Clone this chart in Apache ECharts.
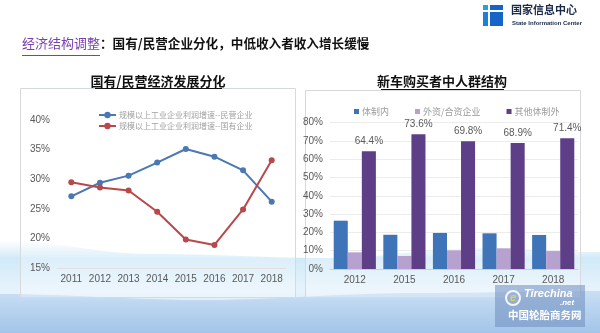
<!DOCTYPE html>
<html>
<head>
<meta charset="utf-8">
<script src="https://cdn.jsdelivr.net/npm/echarts@6/dist/echarts.min.js"></script>
<style>
  html, body { margin: 0; padding: 0; background: #fff; }
  #chart { width: 600px; height: 333px; }
</style>
</head>
<body>
<div id="chart"></div>
<script>
// Profit growth of industrial enterprises above designated size (%)
const growthYears = ['2011', '2012', '2013', '2014', '2015', '2016', '2017', '2018'];
const privateGrowth = [27.1, 29.4, 30.6, 32.8, 35.1, 33.8, 31.5, 26.2];
const stateGrowth = [29.5, 28.6, 28.1, 24.5, 19.8, 18.9, 24.9, 33.2];
const growthNames = ['规模以上工业企业利润增速--民营企业', '规模以上工业企业利润增速--国有企业'];

// Composition of new-car buyers (%)
const buyerYears = ['2012', '2015', '2016', '2017', '2018'];
const inSystem = [26.4, 18.7, 19.7, 19.5, 18.6];
const foreignJV = [9.1, 7.1, 10.2, 11.3, 9.8];
const otherOutside = [64.4, 73.6, 69.8, 68.9, 71.4];
const buyerNames = ['体制内', '外资/合资企业', '其他体制外'];

const FONT = 'Liberation Sans, Arial, sans-serif';
const CJK = '"Noto Sans CJK SC", sans-serif';

function vGradient(stops) {
  return { type: 'linear', x: 0, y: 0, x2: 0, y2: 1, colorStops: stops };
}

// closed band shape: a wavy top edge (cosine blend between anchor heights) down to the page bottom
function waveBand(anchors) {
  const pts = [];
  for (let i = 0; i < anchors.length - 1; i++) {
    const [x0, y0] = anchors[i];
    const [x1, y1] = anchors[i + 1];
    for (let s = 0; s < 12; s++) {
      const t = s / 12;
      const k = (1 - Math.cos(Math.PI * t)) / 2;
      pts.push([x0 + (x1 - x0) * t, y0 + (y1 - y0) * k]);
    }
  }
  pts.push(anchors[anchors.length - 1]);
  pts.push([600, 333], [0, 333]);
  return pts;
}

const chart = echarts.init(document.getElementById('chart'), null, { renderer: 'canvas' });

const background = [
  { type: 'rect', z: -20, shape: { x: 0, y: 0, width: 600, height: 333 }, style: { fill: '#ffffff' } },
  // soft watercolour wave near the bottom
  {
    type: 'polygon', z: -19,
    shape: { points: waveBand([[0, 240], [150, 254], [330, 258], [480, 248], [600, 252]]) },
    style: {
      fill: vGradient([
        { offset: 0, color: 'rgba(205,232,246,0.0)' },
        { offset: 0.2, color: 'rgba(196,228,246,0.8)' },
        { offset: 0.55, color: 'rgba(215,235,249,0.6)' },
        { offset: 1, color: 'rgba(190,214,240,0.9)' }
      ])
    }
  },
  {
    type: 'polygon', z: -18,
    shape: { points: waveBand([[0, 294], [200, 300], [420, 293], [600, 291]]) },
    style: {
      fill: vGradient([
        { offset: 0, color: 'rgba(185,212,240,0.65)' },
        { offset: 1, color: 'rgba(160,194,232,0.9)' }
      ])
    }
  },
  // chart frames
  { type: 'rect', z: -5, shape: { x: 20.5, y: 88.5, width: 275, height: 209 }, style: { fill: 'rgba(255,255,255,0.25)', stroke: '#d6d9de', lineWidth: 1 } },
  { type: 'rect', z: -5, shape: { x: 305.5, y: 90.5, width: 275, height: 207 }, style: { fill: 'rgba(255,255,255,0.25)', stroke: '#d6d9de', lineWidth: 1 } },
  // headline
  {
    type: 'text', left: 22, top: 37,
    style: {
      text: '{p|经济结构调整}{b|：国有/民营企业分化，中低收入者收入增长缓慢}',
      rich: {
        p: { fill: '#7a3fb3', font: '13px ' + CJK },
        b: { fill: '#111111', font: 'bold 12.6px ' + CJK }
      }
    }
  },
  { type: 'line', shape: { x1: 22, y1: 55.5, x2: 100, y2: 55.5 }, style: { stroke: '#7a3fb3', lineWidth: 1 } },
  // chart titles with underline
  { type: 'text', x: 158, y: 75, style: { text: '国有/民营经济发展分化', fill: '#111', font: 'bold 13px ' + CJK, textAlign: 'center' } },
  { type: 'line', shape: { x1: 95, y1: 88.5, x2: 222, y2: 88.5 }, style: { stroke: '#111', lineWidth: 1 } },
  { type: 'text', x: 442, y: 75, style: { text: '新车购买者中人群结构', fill: '#111', font: 'bold 13px ' + CJK, textAlign: 'center' } },
  { type: 'line', shape: { x1: 381, y1: 89.5, x2: 504, y2: 89.5 }, style: { stroke: '#111', lineWidth: 1 } },
  // organisation logo
  { type: 'rect', shape: { x: 483, y: 5, width: 5, height: 5 }, style: { fill: '#2f9be0' } },
  { type: 'rect', shape: { x: 490, y: 5, width: 13, height: 5 }, style: { fill: '#1565c8' } },
  { type: 'rect', shape: { x: 483, y: 12, width: 5, height: 14 }, style: { fill: '#1e7fd6' } },
  { type: 'rect', shape: { x: 490, y: 12, width: 13, height: 14 }, style: { fill: '#1565c8' } },
  { type: 'text', x: 511, y: 4, style: { text: '国家信息中心', fill: '#1a2a4a', font: 'bold 11px ' + CJK } },
  { type: 'text', x: 512, y: 20, style: { text: 'State Information Center', fill: '#1a2a4a', font: 'bold 6px ' + FONT } },
  // site badge
  { type: 'rect', z: 20, shape: { x: 495, y: 285, width: 90, height: 42 }, style: { fill: 'rgba(110,140,190,0.55)' } },
  { type: 'circle', z: 21, shape: { cx: 513, cy: 298, r: 7 }, style: { fill: 'none', stroke: '#f3f6fb', lineWidth: 2 } },
  { type: 'text', z: 21, x: 510, y: 292, style: { text: 'e', fill: '#e8d44a', font: 'italic bold 11px ' + FONT } },
  { type: 'text', z: 21, x: 524, y: 288, style: { text: 'Tirechina', fill: '#ffffff', font: 'italic bold 11px ' + FONT } },
  { type: 'text', z: 21, x: 560, y: 299, style: { text: '.net', fill: '#ffffff', font: 'italic bold 8px ' + FONT } },
  { type: 'text', z: 21, x: 508, y: 310, style: { text: '中国轮胎商务网', fill: '#ffffff', font: 'bold 10.5px ' + CJK } }
];

const option = {
  animation: false,
  backgroundColor: 'transparent',
  graphic: background,
  legend: [
    {
      data: growthNames,
      orient: 'vertical',
      left: 93, top: 106,
      itemWidth: 17, itemHeight: 8, itemGap: 3,
      textStyle: { fontFamily: CJK, fontSize: 8, color: '#a0a0a0', padding: [0, 0, 0, -2] }
    },
    {
      data: buyerNames,
      orient: 'horizontal',
      left: 349, top: 102,
      itemWidth: 5, itemHeight: 5, itemGap: 26,
      icon: 'rect',
      textStyle: { fontFamily: CJK, fontSize: 9, color: '#9a9a9a', padding: [0, 0, 0, -2] }
    }
  ],
  grid: [
    { left: 57, right: 314, top: 120, bottom: 65, containLabel: false },
    { left: 330, right: 22, top: 122.6, bottom: 64, containLabel: false }
  ],
  xAxis: [
    {
      gridIndex: 0, type: 'category', data: growthYears, boundaryGap: true,
      axisLine: { show: true, lineStyle: { color: '#e0e0e0' } },
      axisTick: { show: false },
      axisLabel: { interval: 0, color: '#595959', fontFamily: FONT, fontSize: 10, margin: 6 }
    },
    {
      gridIndex: 1, type: 'category', data: buyerYears, boundaryGap: true,
      axisLine: { show: true, lineStyle: { color: '#d0d0d0' } },
      axisTick: { show: false },
      axisLabel: { interval: 0, color: '#595959', fontFamily: FONT, fontSize: 10, margin: 6 }
    }
  ],
  yAxis: [
    {
      gridIndex: 0, type: 'value', min: 15, max: 40, interval: 5,
      axisLine: { show: false }, axisTick: { show: false },
      splitLine: { show: false },
      axisLabel: { formatter: '{value}%', color: '#595959', fontFamily: FONT, fontSize: 10, margin: 7 }
    },
    {
      gridIndex: 1, type: 'value', min: 0, max: 80, interval: 10,
      axisLine: { show: false }, axisTick: { show: false },
      splitLine: { show: true, lineStyle: { color: '#ececec' } },
      axisLabel: { formatter: '{value}%', color: '#595959', fontFamily: FONT, fontSize: 10, margin: 7 }
    }
  ],
  series: [
    {
      name: growthNames[0], type: 'line', xAxisIndex: 0, yAxisIndex: 0,
      data: privateGrowth, symbol: 'circle', symbolSize: 6,
      lineStyle: { color: '#4a78b2', width: 2 }, itemStyle: { color: '#4a78b2' }
    },
    {
      name: growthNames[1], type: 'line', xAxisIndex: 0, yAxisIndex: 0,
      data: stateGrowth, symbol: 'circle', symbolSize: 6,
      lineStyle: { color: '#b8484a', width: 2 }, itemStyle: { color: '#b8484a' }
    },
    {
      name: buyerNames[0], type: 'bar', xAxisIndex: 1, yAxisIndex: 1,
      data: inSystem, barGap: '0%', barCategoryGap: '15%',
      itemStyle: { color: '#3f74b8' }
    },
    {
      name: buyerNames[1], type: 'bar', xAxisIndex: 1, yAxisIndex: 1,
      data: foreignJV, barGap: '0%', barCategoryGap: '15%',
      itemStyle: { color: '#b6a1cf' }
    },
    {
      name: buyerNames[2], type: 'bar', xAxisIndex: 1, yAxisIndex: 1,
      data: otherOutside, barGap: '0%', barCategoryGap: '15%',
      itemStyle: { color: '#5f3e88' },
      label: {
        show: true, position: 'top', distance: 5,
        formatter: p => p.value.toFixed(1) + '%',
        color: '#595959', fontFamily: FONT, fontSize: 10
      }
    }
  ]
};

chart.setOption(option);
</script>
</body>
</html>
